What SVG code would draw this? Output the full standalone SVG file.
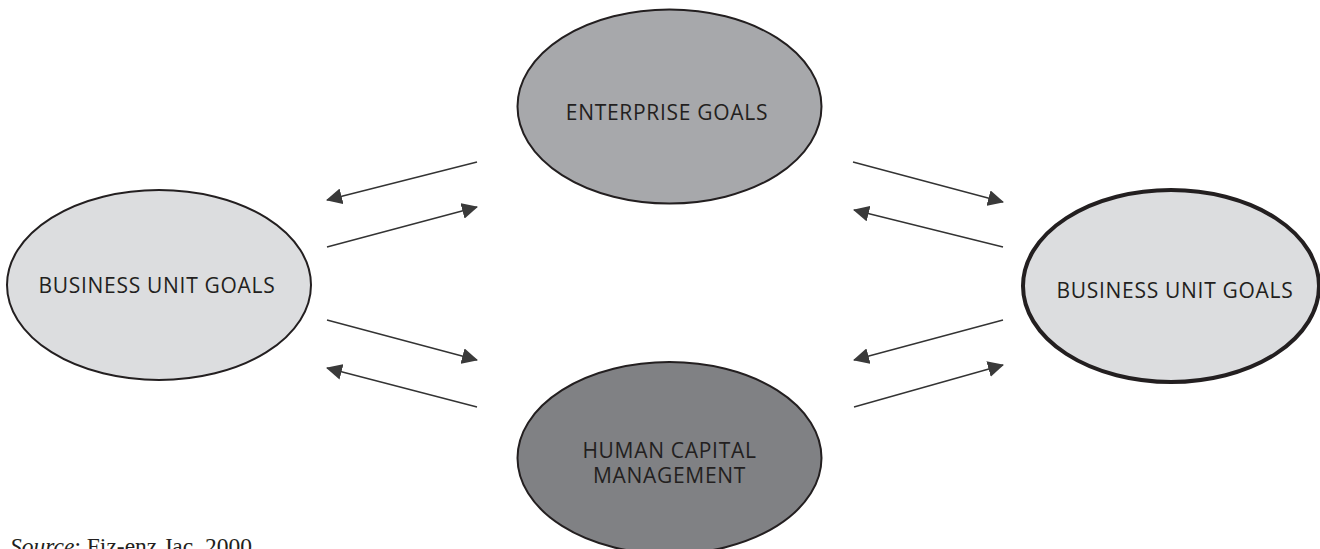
<svg xmlns="http://www.w3.org/2000/svg" width="1320" height="549" viewBox="0 0 1320 549">
<style>
.lbl{font-family:"Open Sans","Noto Sans",sans-serif;font-size:21px;letter-spacing:0.7px;fill:#231f20;text-anchor:middle}
.conn line{stroke:#333;stroke-width:1.4;marker-end:url(#ah)}
.node ellipse{stroke:#231f20;stroke-width:2}
.src{font-family:"Liberation Serif",serif;font-size:23.5px;fill:#231f20}
</style>
<defs>
<marker id="ah" viewBox="0 0 16 16" refX="15" refY="8" markerWidth="16" markerHeight="16" markerUnits="userSpaceOnUse" orient="auto">
<path d="M0,0 L16,8 L0,16 Z" fill="#3a3a3a"/>
</marker>
</defs>
<rect width="1320" height="549" fill="#fff"/>
<g id="enterprise" class="node">
<ellipse cx="669.5" cy="106.5" rx="152" ry="97" fill="#a7a8ab"/>
<text class="lbl" x="667" y="120">ENTERPRISE GOALS</text>
</g>
<g id="hcm" class="node">
<ellipse cx="669.5" cy="458" rx="152" ry="96" fill="#808184"/>
<text class="lbl" x="669.5" y="458">HUMAN CAPITAL</text>
<text class="lbl" x="669.5" y="483">MANAGEMENT</text>
</g>
<g id="bu-left" class="node">
<ellipse cx="159" cy="285" rx="152" ry="95" fill="#dcdddf"/>
<text class="lbl" x="157" y="293">BUSINESS UNIT GOALS</text>
</g>
<g id="bu-right" class="node">
<ellipse cx="1171" cy="286" rx="148" ry="96" fill="#dcdddf" style="stroke-width:4"/>
<text class="lbl" x="1175" y="298">BUSINESS UNIT GOALS</text>
</g>
<g id="connectors" class="conn">
<line x1="477" y1="162" x2="327" y2="200"/>
<line x1="327" y1="247" x2="477" y2="207"/>
<line x1="327" y1="320" x2="477" y2="360"/>
<line x1="477" y1="407" x2="327" y2="368"/>
<line x1="853" y1="162" x2="1003" y2="202"/>
<line x1="1003" y1="247" x2="854" y2="210"/>
<line x1="1003" y1="320" x2="854" y2="360"/>
<line x1="854" y1="407" x2="1003" y2="365"/>
</g>
<text class="src" x="10" y="554"><tspan font-style="italic">Source</tspan>: Fiz-enz Jac, 2000</text>
</svg>
